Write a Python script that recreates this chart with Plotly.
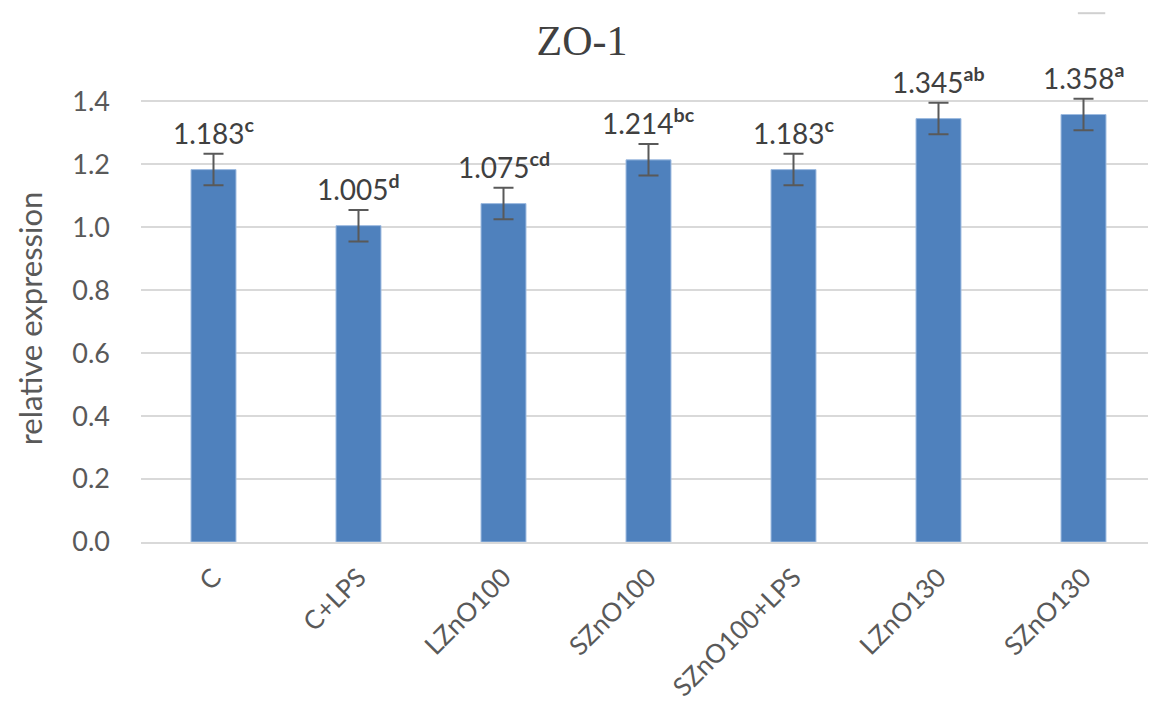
import plotly.graph_objects as go

categories = ["C", "C+LPS", "LZnO100", "SZnO100", "SZnO100+LPS", "LZnO130", "SZnO130"]
values = [1.183, 1.005, 1.075, 1.214, 1.183, 1.345, 1.358]
errors = [0.05, 0.05, 0.05, 0.05, 0.05, 0.05, 0.05]
letters = ["c", "d", "cd", "bc", "c", "ab", "a"]
y_ticks = [0.0, 0.2, 0.4, 0.6, 0.8, 1.0, 1.2, 1.4]

labels = [f"{v:.3f}<sup><b>{l}</b></sup>" for v, l in zip(values, letters)]
label_y = [v + e for v, e in zip(values, errors)]

font_family = "Lato, 'Open Sans', sans-serif"
grey = "#595959"

fig = go.Figure()
fig.add_trace(go.Bar(
    x=categories, y=values,
    marker=dict(color="#4f81bd", line=dict(color="#9dbbe0", width=1)),
    width=0.31,
    error_y=dict(type="data", array=errors, visible=True, color=grey, thickness=2, width=10),
    cliponaxis=False,
    hoverinfo="skip",
))

for c, ly, t in zip(categories, label_y, labels):
    fig.add_annotation(
        x=c, y=ly, xref="x", yref="y", text=t, showarrow=False,
        yanchor="bottom", xanchor="center", yshift=2,
        font=dict(family=font_family, size=28, color="#404040"),
    )

fig.update_layout(
    width=1148, height=693,
    paper_bgcolor="white", plot_bgcolor="white",
    showlegend=False,
    margin=dict(l=133, r=0, t=87, b=159),
    title=dict(text="ZO-1", x=0.5, xanchor="center", y=0.954, yanchor="middle",
               font=dict(family="'Liberation Serif', 'Times New Roman', serif", size=42, color="#404040")),
    font=dict(family=font_family, color=grey),
)
fig.update_yaxes(
    range=[0, 1.42], tickvals=y_ticks, ticktext=[f"{t:.1f}" for t in y_ticks],
    showgrid=True, gridcolor="#d9d9d9", gridwidth=1.5, zeroline=False,
    showline=False, ticks="", tickfont=dict(size=27, color=grey),
    ticklabelstandoff=30, automargin=False,
    title=dict(text="relative expression", font=dict(size=31, color=grey), standoff=20),
)
fig.update_xaxes(
    showline=True, linecolor="#d9d9d9", linewidth=2,
    tickangle=-45, tickfont=dict(size=26, color=grey), ticks="",
    ticklabelstandoff=8, automargin=False,
)
fig.add_shape(type="line", xref="paper", yref="paper", x0=0.923, x1=0.950, y0=1.183, y1=1.183,
              line=dict(color="#d0d0d0", width=2))

fig.write_html("out.html")
